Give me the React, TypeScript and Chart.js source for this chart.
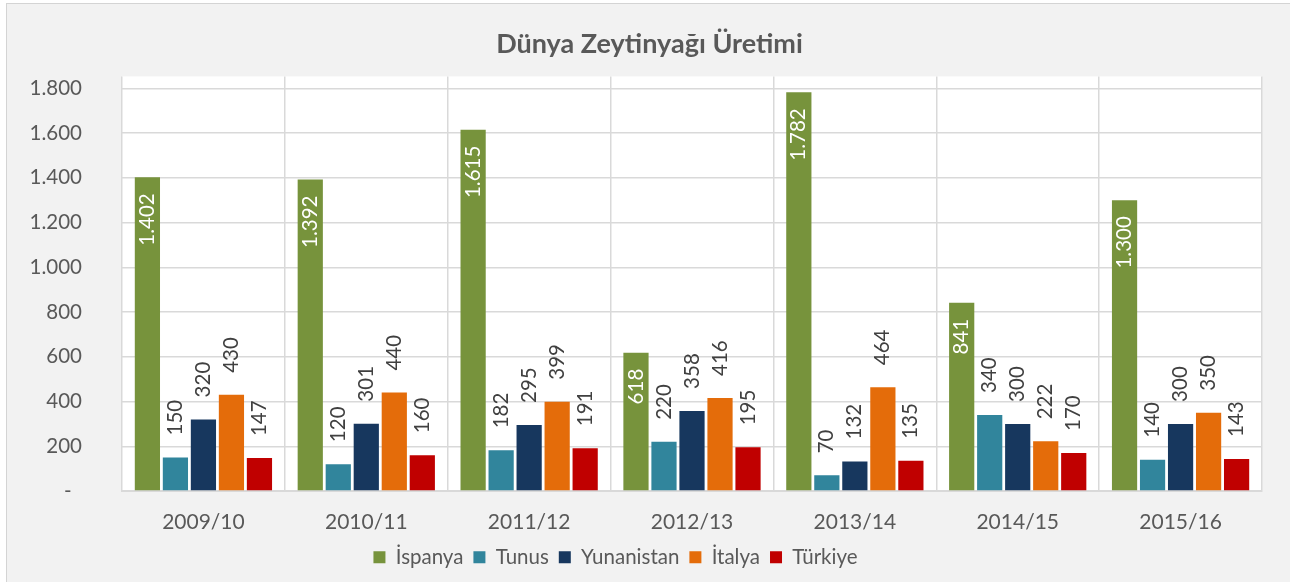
import React, { useEffect, useRef } from "react";
import { Chart, registerables } from "chart.js";

Chart.register(...registerables);

const categories = ["2009/10", "2010/11", "2011/12", "2012/13", "2013/14", "2014/15", "2015/16"];
const seriesNames = ["İspanya", "Tunus", "Yunanistan", "İtalya", "Türkiye"];
const ispanya = [1402, 1392, 1615, 618, 1782, 841, 1300];
const tunus = [150, 120, 182, 220, 70, 340, 140];
const yunanistan = [320, 301, 295, 358, 132, 300, 300];
const italya = [430, 440, 399, 416, 464, 222, 350];
const turkiye = [147, 160, 191, 195, 135, 170, 143];
const seriesColors = ["#77933c", "#31859c", "#17375e", "#e46c0a", "#c00000"];
const yTickValues = [0, 200, 400, 600, 800, 1000, 1200, 1400, 1600, 1800];
const titleText = "Dünya Zeytinyağı Üretimi";

const FONT = "Lato";

function fmt(v: number): string {
  return String(v).replace(/\B(?=(\d{3})+(?!\d))/g, ".");
}

const plotBgPlugin = {
  id: "plotBg",
  beforeDraw(chart: any) {
    const { ctx, chartArea } = chart;
    ctx.save();
    ctx.fillStyle = "#ffffff";
    ctx.fillRect(chartArea.left, chartArea.top, chartArea.right - chartArea.left, chartArea.bottom - chartArea.top);
    ctx.restore();
  },
};

const shiftPlugin = {
  id: "shiftBlocks",
  afterLayout(chart: any) {
    if (chart.titleBlock) {
      chart.titleBlock.left += 18.5;
      chart.titleBlock.right += 18.5;
    }
    if (chart.legend) {
      chart.legend.left -= 15.5;
      chart.legend.right -= 15.5;
    }
  },
};

const labelPlugin = {
  id: "barLabels",
  afterDatasetsDraw(chart: any) {
    const { ctx } = chart;
    ctx.save();
    ctx.font = `20.5px ${FONT}`;
    ctx.textBaseline = "middle";
    chart.data.datasets.forEach((ds: any, di: number) => {
      const meta = chart.getDatasetMeta(di);
      meta.data.forEach((bar: any, i: number) => {
        const v = ds.data[i];
        const text = fmt(v);
        ctx.save();
        if (di === 0) {
          ctx.translate(bar.x, bar.y + 16);
          ctx.rotate(-Math.PI / 2);
          ctx.textAlign = "right";
          ctx.fillStyle = "#ffffff";
        } else {
          ctx.translate(bar.x, bar.y - 22);
          ctx.rotate(-Math.PI / 2);
          ctx.textAlign = "left";
          ctx.fillStyle = "#404040";
        }
        ctx.fillText(text, 0, 0);
        ctx.restore();
      });
    });
    ctx.restore();
  },
};

export default function App() {
  const canvasRef = useRef<HTMLCanvasElement | null>(null);

  useEffect(() => {
    if (!canvasRef.current) return;
    const seriesData = [ispanya, tunus, yunanistan, italya, turkiye];
    const chart = new Chart(canvasRef.current, {
      type: "bar",
      data: {
        labels: categories,
        datasets: seriesNames.map((name, i) => ({
          label: name,
          data: seriesData[i],
          backgroundColor: seriesColors[i],
          borderWidth: 0,
          categoryPercentage: 0.86,
          barPercentage: 0.9,
        })),
      },
      options: {
        responsive: false,
        animation: false,
        devicePixelRatio: 1,
        layout: { padding: { left: 0, right: 28, top: 0, bottom: 4.5 } },
        plugins: {
          title: {
            display: true,
            text: titleText,
            color: "#595959",
            font: { family: FONT, size: 27, weight: "bold" },
            padding: { top: 27.8, bottom: 16.2 },
          },
          legend: {
            display: true,
            position: "bottom",
            labels: {
              boxWidth: 12,
              boxHeight: 12,
              padding: 10,
              color: "#595959",
              font: { family: FONT, size: 20.5 },
            },
          },
          tooltip: { enabled: false },
        },
        scales: {
          x: {
            grid: { color: "#d9d9d9", lineWidth: 1.5, drawTicks: false, offset: true },
            border: { display: true, color: "#d9d9d9", width: 2 },
            ticks: {
              color: "#595959",
              font: { family: FONT, size: 21 },
              padding: 19,
              maxRotation: 0,
            },
            afterFit(scale: any) {
              scale.height = 46;
            },
          },
          y: {
            min: 0,
            max: 1853,
            grid: { color: "#d9d9d9", lineWidth: 1.5, drawTicks: false },
            border: { display: false },
            afterBuildTicks(scale: any) {
              scale.ticks = yTickValues.map((v) => ({ value: v }));
            },
            ticks: {
              color: "#595959",
              font: { family: FONT, size: 20.5 },
              padding: 40,
              includeBounds: false,
              callback: (v: any) => (Number(v) === 0 ? "-  " : fmt(Number(v))),
            },
            afterFit(scale: any) {
              scale.width = 122;
            },
          },
        },
      },
      plugins: [plotBgPlugin, shiftPlugin, labelPlugin],
    });
    return () => chart.destroy();
  }, []);

  return (
    <div style={{ position: "fixed", left: 0, top: 0, width: 1290, height: 582, overflow: "hidden", background: "#ffffff" }}>
      <div
        style={{
          position: "absolute",
          left: 6,
          top: 3,
          width: 1300,
          height: 600,
          background: "#f2f2f2",
          border: "1px solid #d4d4d4",
          boxSizing: "border-box",
        }}
      />
      <canvas ref={canvasRef} width={1290} height={582} style={{ position: "absolute", left: 0, top: 0, width: 1290, height: 582 }} />
    </div>
  );
}
